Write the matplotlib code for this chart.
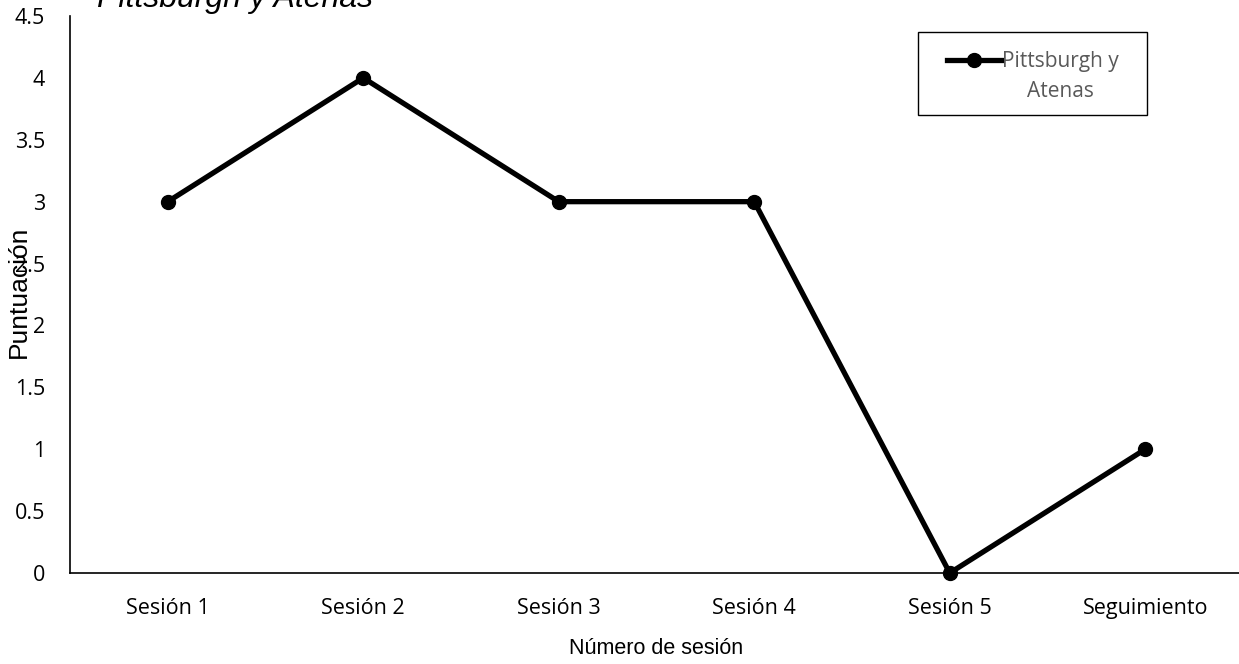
import matplotlib
matplotlib.use('Agg')
import matplotlib.pyplot as plt
from matplotlib.patches import Rectangle
from matplotlib.legend_handler import HandlerLine2D

sesiones = ["Sesión 1", "Sesión 2", "Sesión 3", "Sesión 4", "Sesión 5", "Seguimiento"]
puntuacion = [3, 4, 3, 3, 0, 1]
serie = "Pittsburgh y\nAtenas"
yticks = [0, 0.5, 1, 1.5, 2, 2.5, 3, 3.5, 4, 4.5]


class FirstLineHandler(HandlerLine2D):
    # put the legend line level with the first line of a two-line label
    def create_artists(self, legend, orig_handle, xdescent, ydescent, width, height, fontsize, trans):
        return super().create_artists(legend, orig_handle, xdescent, ydescent - 2.3 * height,
                                      width, height, fontsize, trans)


W, H = 1239, 664
fig = plt.figure(figsize=(W / 100, H / 100), dpi=100)
# axes run a bit past the right edge of the figure
ax = fig.add_axes([70 / W, 1 - 573 / H, 1173 / W, 557 / H])

x = list(range(len(sesiones)))
line, = ax.plot(x, puntuacion, color="black", linewidth=3.8, marker="o", markersize=10,
                label=serie, solid_joinstyle="miter", clip_on=False)

ax.set_xlim(-0.5, len(sesiones) - 0.5)
ax.set_ylim(0, 4.5)
ax.set_xticks(x)
ax.set_xticklabels(sesiones, fontsize=15.5, family="Open Sans")
ax.set_yticks(yticks)
ax.set_yticklabels([f"{v:g}" for v in yticks], fontsize=15.5, family="Open Sans")
ax.tick_params(axis="y", length=0, pad=18)
ax.tick_params(axis="x", length=0, pad=18)

for s in ["top", "right"]:
    ax.spines[s].set_visible(False)
ax.spines["left"].set_linewidth(1.2)
ax.spines["bottom"].set_linewidth(1.2)

ax.set_xlabel("Número de sesión", fontsize=15.5, family="Liberation Sans", labelpad=14)
ax.set_ylabel("Puntuación", fontsize=19, family="Liberation Sans")
ax.yaxis.set_label_coords(-0.033, 0.505)

fig.text(97 / W, 1 - 7 / H, "Pittsburgh y Atenas", fontsize=23, style="italic",
         family="Liberation Sans", va="baseline", ha="left")

# legend entries without frame, box drawn separately so the padding is wider
leg = fig.legend(handles=[line], loc="upper left", bbox_to_anchor=(947 / W, 1 - 51 / H),
                 frameon=False, handlelength=2.6, borderaxespad=0, borderpad=0,
                 handletextpad=0.05, handler_map={line: FirstLineHandler()},
                 prop={"family": "Open Sans", "size": 15})
for t in leg.get_texts():
    t.set_color("#595959")
    t.set_multialignment("center")
    t.set_linespacing(1.55)
fig.add_artist(Rectangle((918 / W, 1 - 115 / H), 229 / W, 83 / H, transform=fig.transFigure,
                         fill=False, edgecolor="black", linewidth=1.0))

fig.savefig("out.png", dpi=100)
